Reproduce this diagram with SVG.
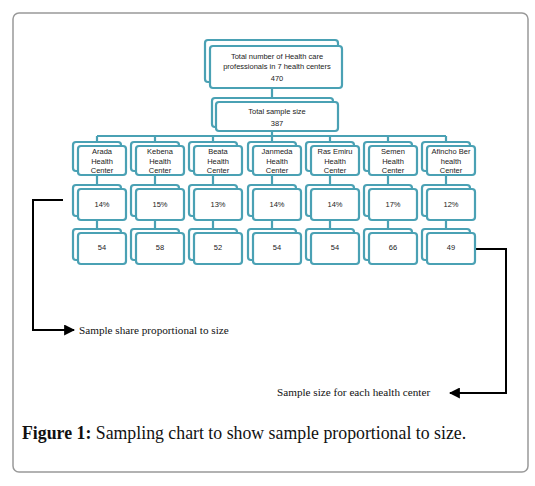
<svg xmlns="http://www.w3.org/2000/svg" width="535" height="486" viewBox="0 0 535 486">
<defs>
<style>
.b{fill:#fff;stroke:#4aa1b4;stroke-width:2.2}
.t{font-family:"Liberation Sans",Arial,sans-serif;font-size:7.5px;fill:#222;text-anchor:middle}
.c{fill:none;stroke:#4aa1b4;stroke-width:2.2}
.a{fill:none;stroke:#000;stroke-width:2}
.s{font-family:"Liberation Serif","Times New Roman",serif;font-size:11.2px;fill:#111}
</style>
<marker id="ah" viewBox="0 0 10 10" refX="9" refY="5" markerWidth="5.5" markerHeight="5.5" orient="auto"><path d="M0,0 L10,5 L0,10 z" fill="#000"/></marker>
</defs>
<rect x="13" y="13" width="515" height="459" rx="6" fill="#fff" stroke="#999" stroke-width="1.5"/>
<g id="connectors">
<path class="c" d="M272,88 V98 M272,131 V136 M97,136 H446 M97,136 V142 M155,136 V142 M213,136 V142 M272,136 V142 M330,136 V142 M388,136 V142 M446,136 V142"/>
<path class="c" d="M97,175 V185 M97,220 V229 M155,175 V185 M155,220 V229 M213,175 V185 M213,220 V229 M272,175 V185 M272,220 V229 M330,175 V185 M330,220 V229 M388,175 V185 M388,220 V229 M446,175 V185 M446,220 V229"/>
<path class="a" d="M63,200 H33 V330 H74" marker-end="url(#ah)"/>
<path class="a" d="M475,249 H506 V393 H450" marker-end="url(#ah)"/>
</g>
<g id="total">
<rect class="b" x="205" y="40" width="133" height="42" rx="3"/>
<rect class="b" x="210" y="46" width="132" height="42" rx="3"/>
<text class="t" x="277" y="59">Total number of Health care</text>
<text class="t" x="277" y="69">professionals in 7 health centers</text>
<text class="t" x="277" y="81">470</text>
</g>
<g id="sample">
<rect class="b" x="212" y="98" width="121" height="29" rx="3"/>
<rect class="b" x="216" y="102" width="122" height="29" rx="3"/>
<text class="t" x="277" y="114">Total sample size</text>
<text class="t" x="277" y="126">387</text>
</g>
<g id="c1">
<rect class="b" x="73" y="142" width="48" height="29" rx="3"/><rect class="b" x="78" y="146" width="48" height="29" rx="3"/>
<text class="t" x="102" y="154">Arada</text><text class="t" x="102" y="164">Health</text><text class="t" x="102" y="173">Center</text>
</g>
<g id="p1"><rect class="b" x="73" y="185" width="48" height="31" rx="3"/><rect class="b" x="78" y="189" width="48" height="31" rx="3"/><text class="t" x="102" y="207">14%</text></g>
<g id="n1"><rect class="b" x="73" y="229" width="48" height="31" rx="3"/><rect class="b" x="78" y="233" width="48" height="31" rx="3"/><text class="t" x="102" y="250">54</text></g>
<g id="c2">
<rect class="b" x="131" y="142" width="48" height="29" rx="3"/><rect class="b" x="136" y="146" width="48" height="29" rx="3"/>
<text class="t" x="160" y="154">Kebena</text><text class="t" x="160" y="164">Health</text><text class="t" x="160" y="173">Center</text>
</g>
<g id="p2"><rect class="b" x="131" y="185" width="48" height="31" rx="3"/><rect class="b" x="136" y="189" width="48" height="31" rx="3"/><text class="t" x="160" y="207">15%</text></g>
<g id="n2"><rect class="b" x="131" y="229" width="48" height="31" rx="3"/><rect class="b" x="136" y="233" width="48" height="31" rx="3"/><text class="t" x="160" y="250">58</text></g>
<g id="c3">
<rect class="b" x="189" y="142" width="48" height="29" rx="3"/><rect class="b" x="194" y="146" width="48" height="29" rx="3"/>
<text class="t" x="218" y="154">Beata</text><text class="t" x="218" y="164">Health</text><text class="t" x="218" y="173">Center</text>
</g>
<g id="p3"><rect class="b" x="189" y="185" width="48" height="31" rx="3"/><rect class="b" x="194" y="189" width="48" height="31" rx="3"/><text class="t" x="218" y="207">13%</text></g>
<g id="n3"><rect class="b" x="189" y="229" width="48" height="31" rx="3"/><rect class="b" x="194" y="233" width="48" height="31" rx="3"/><text class="t" x="218" y="250">52</text></g>
<g id="c4">
<rect class="b" x="248" y="142" width="48" height="29" rx="3"/><rect class="b" x="253" y="146" width="48" height="29" rx="3"/>
<text class="t" x="277" y="154">Janmeda</text><text class="t" x="277" y="164">Health</text><text class="t" x="277" y="173">Center</text>
</g>
<g id="p4"><rect class="b" x="248" y="185" width="48" height="31" rx="3"/><rect class="b" x="253" y="189" width="48" height="31" rx="3"/><text class="t" x="277" y="207">14%</text></g>
<g id="n4"><rect class="b" x="248" y="229" width="48" height="31" rx="3"/><rect class="b" x="253" y="233" width="48" height="31" rx="3"/><text class="t" x="277" y="250">54</text></g>
<g id="c5">
<rect class="b" x="306" y="142" width="48" height="29" rx="3"/><rect class="b" x="311" y="146" width="48" height="29" rx="3"/>
<text class="t" x="335" y="154">Ras Emiru</text><text class="t" x="335" y="164">Health</text><text class="t" x="335" y="173">Center</text>
</g>
<g id="p5"><rect class="b" x="306" y="185" width="48" height="31" rx="3"/><rect class="b" x="311" y="189" width="48" height="31" rx="3"/><text class="t" x="335" y="207">14%</text></g>
<g id="n5"><rect class="b" x="306" y="229" width="48" height="31" rx="3"/><rect class="b" x="311" y="233" width="48" height="31" rx="3"/><text class="t" x="335" y="250">54</text></g>
<g id="c6">
<rect class="b" x="364" y="142" width="48" height="29" rx="3"/><rect class="b" x="369" y="146" width="48" height="29" rx="3"/>
<text class="t" x="393" y="154">Semen</text><text class="t" x="393" y="164">Health</text><text class="t" x="393" y="173">Center</text>
</g>
<g id="p6"><rect class="b" x="364" y="185" width="48" height="31" rx="3"/><rect class="b" x="369" y="189" width="48" height="31" rx="3"/><text class="t" x="393" y="207">17%</text></g>
<g id="n6"><rect class="b" x="364" y="229" width="48" height="31" rx="3"/><rect class="b" x="369" y="233" width="48" height="31" rx="3"/><text class="t" x="393" y="250">66</text></g>
<g id="c7">
<rect class="b" x="422" y="142" width="48" height="29" rx="3"/><rect class="b" x="427" y="146" width="48" height="29" rx="3"/>
<text class="t" x="451" y="154">Afincho Ber</text><text class="t" x="451" y="164">health</text><text class="t" x="451" y="173">Center</text>
</g>
<g id="p7"><rect class="b" x="422" y="185" width="48" height="31" rx="3"/><rect class="b" x="427" y="189" width="48" height="31" rx="3"/><text class="t" x="451" y="207">12%</text></g>
<g id="n7"><rect class="b" x="422" y="229" width="48" height="31" rx="3"/><rect class="b" x="427" y="233" width="48" height="31" rx="3"/><text class="t" x="451" y="250">49</text></g>
<text class="s" x="79" y="334">Sample share proportional to size</text>
<text class="s" x="277" y="396">Sample size for each health center</text>
<text x="22" y="439" style="font-family:'Liberation Serif','Times New Roman',serif;font-size:17.8px;fill:#111"><tspan font-weight="bold">Figure 1:</tspan> Sampling chart to show sample proportional to size.</text>
</svg>
